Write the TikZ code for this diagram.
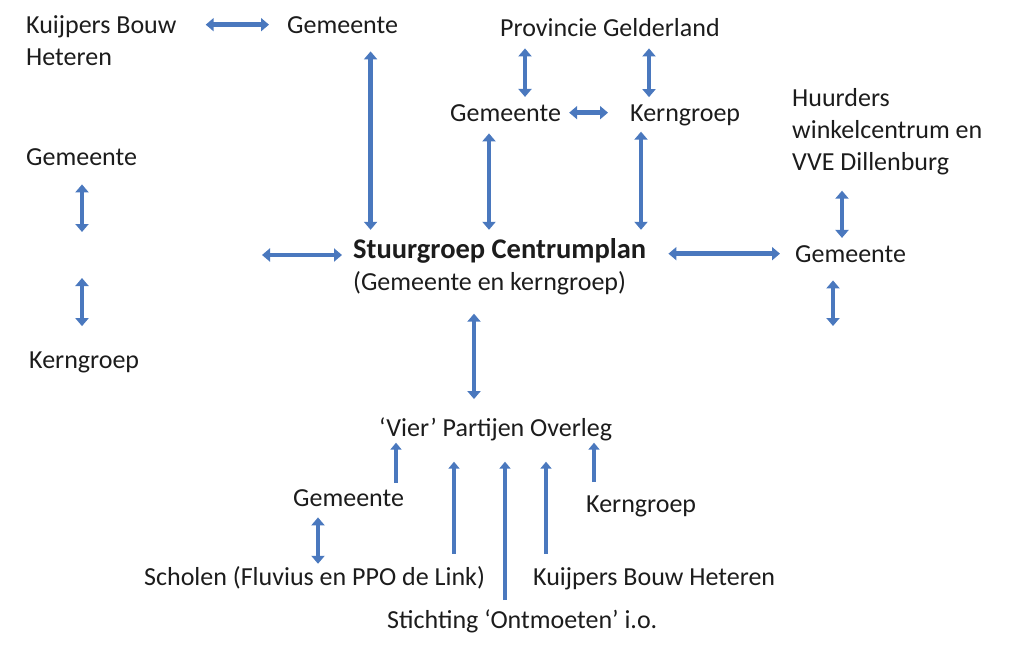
\documentclass[tikz,border=0pt]{standalone}
\usepackage{fontspec}
\setmainfont{Carlito}
\usetikzlibrary{arrows.meta}
\definecolor{arrowblue}{RGB}{74,120,190}
\definecolor{inkgrey}{RGB}{28,28,28}
\tikzset{
  lbl/.style={anchor=base west, inner sep=0pt, text=inkgrey, align=left},
  dlink/.style={draw=arrowblue, line width=4.4pt,
    {Triangle[width=13pt,length=8pt]}-{Triangle[width=13pt,length=8pt]}},
  ulink/.style={draw=arrowblue, line width=4.4pt, -{Triangle[width=11pt,length=7pt]}},
}
\begin{document}
\begin{tikzpicture}[x=1pt, y=-1pt, font=\fontsize{26}{32}\selectfont]
\useasboundingbox (0,0) rectangle (1032,649);
% top and left (base = last line)
\node[lbl] (kuijA) at (26,65) {Kuijpers Bouw\\Heteren};
\node[lbl] (gemA) at (287,33) {Gemeente};
\node[lbl] (prov) at (500,36) {Provincie Gelderland};
\node[lbl] (gemB) at (450,121) {Gemeente};
\node[lbl] (kernB) at (630,121) {Kerngroep};
\node[lbl] (huur) at (792,170) {Huurders\\winkelcentrum en\\VVE Dillenburg};
\node[lbl] (gemL) at (26,165) {Gemeente};
\node[lbl] (kernL) at (29,368) {Kerngroep};
% centre
\node[lbl] (stuur) at (353,290) {{\fontsize{28.5}{32}\selectfont\bfseries Stuurgroep Centrumplan}\\(Gemeente en kerngroep)};
\node[lbl] (gemR) at (795,262) {Gemeente};
% bottom
\node[lbl] (vier) at (379,436) {‘Vier’ Partijen Overleg};
\node[lbl] (gemO) at (293,506) {Gemeente};
\node[lbl] (kernO) at (586,512) {Kerngroep};
\node[lbl] (schol) at (144,585) {Scholen (Fluvius en PPO de Link)};
\node[lbl] (kuijO) at (533,585) {Kuijpers Bouw Heteren};
\node[lbl] (sticht) at (387,628) {Stichting ‘Ontmoeten’ i.o.};
\coordinate (gemRend) at (833,326);
\coordinate (stuurL) at (262,255);
\coordinate (leftA) at (82,232);
\coordinate (leftB) at (82,278);
% links
\draw[dlink, shorten <=29pt, shorten >=18pt] (kuijA.east |- gemA) -- (gemA.west);
\draw[dlink, shorten <=18pt, shorten >=8pt] ([xshift=28pt]gemA.south) -- ([xshift=28pt]gemA.south |- stuur.north);
\draw[dlink, shorten <=12pt, shorten >=7pt] ([xshift=25pt]prov.south west) -- ([xshift=25pt]prov.south west |- gemB.north);
\draw[dlink, shorten <=12pt, shorten >=7pt] ([xshift=149pt]prov.south west) -- ([xshift=149pt]prov.south west |- kernB.north);
\draw[dlink, shorten <=8pt, shorten >=22pt] (gemB.east) -- (gemB.east -| kernB.west);
\draw[dlink, shorten <=12pt, shorten >=8pt] ([xshift=39pt]gemB.south west) -- ([xshift=39pt]gemB.south west |- stuur.north);
\draw[dlink, shorten <=6pt, shorten >=8pt] ([xshift=11pt]kernB.south west) -- ([xshift=11pt]kernB.south west |- stuur.north);
\draw[dlink, shorten <=16pt, shorten >=7pt] ([xshift=50pt]huur.south west) -- ([xshift=50pt]huur.south west |- gemR.north);
\draw[dlink, shorten <=18pt] (gemR.south -| gemRend) -- (gemRend);
\draw[dlink, shorten <=22pt, shorten >=15pt] (stuur.east |- gemR.west) -- (gemR.west);
\draw[dlink, shorten >=11pt] (stuurL) -- (stuurL -| stuur.west);
\draw[dlink, shorten <=19pt, shorten >=18pt] ([xshift=121pt]stuur.south west) -- ([xshift=121pt]stuur.south west |- vier.north);
\draw[dlink, shorten <=19pt] (gemL.south -| leftA) -- (leftA);
\draw[dlink, shorten >=25pt] (leftB) -- (leftB |- kernL.north);
\draw[dlink, shorten <=11pt, shorten >=2pt] ([xshift=25pt]gemO.south west) -- ([xshift=25pt]gemO.south west |- schol.north);
\foreach \src/\dx/\sa/\sb in {gemO/103/6/2, schol/310/12/21, sticht/118/9/21, kuijO/13/13/21, kernO/8/13/2}
  \draw[ulink, shorten <=\sa pt, shorten >=\sb pt] ([xshift=\dx pt]\src.north west) -- ([xshift=\dx pt]\src.north west |- vier.south);
\end{tikzpicture}
\end{document}
